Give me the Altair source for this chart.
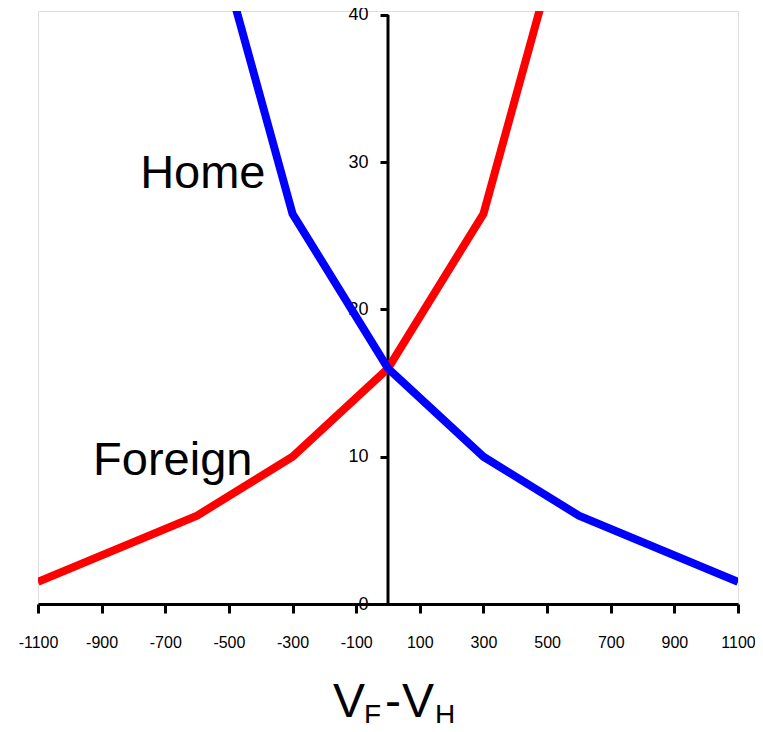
import altair as alt
import pandas as pd

# ---- data ----
x_vals = [-1100, -600, -300, 0, 300, 600, 1100]
home_vals = [None, 50, 26.5, 16, 10, 6, 1.5]
foreign_vals = [1.5, 6, 10, 16, 26.5, 50, None]
series_names = ["Home", "Foreign"]
series_colors = ["#0000ff", "#ff0000"]

x_ticks = [-1100, -900, -700, -500, -300, -100, 100, 300, 500, 700, 900, 1100]
y_ticks = [0, 10, 20, 30, 40]

label_text = ["Home", "Foreign"]
label_x = [-779, -927]
label_y = [28.25, 8.76]

rows = []
for xv, hv, fv in zip(x_vals, home_vals, foreign_vals):
    if hv is not None:
        rows.append({"x": xv, "y": hv, "series": "Home"})
    if fv is not None:
        rows.append({"x": xv, "y": fv, "series": "Foreign"})
df = pd.DataFrame(rows)

labels_df = pd.DataFrame({"text": label_text, "x": label_x, "y": label_y})
yaxis_df = pd.DataFrame({"x": [0], "y": [0], "y2": [40]})

NARROW = "Liberation Sans, Arial, sans-serif"
SANS = "Liberation Sans, Arial, sans-serif"
LABEL_EXPR = "datum.value < 0 ? '-' + abs(datum.value) : '' + datum.value"

xscale = alt.Scale(domain=[-1100, 1100], nice=False, zero=False)
yscale = alt.Scale(domain=[0, 40.27], nice=False, zero=False)

lines = alt.Chart(df).mark_line(strokeWidth=8, clip=True).encode(
    x=alt.X("x:Q", scale=xscale,
            axis=alt.Axis(values=x_ticks, title=None, grid=False,
                          domainColor="black", domainWidth=3,
                          tickColor="black", tickWidth=3, tickSize=9,
                          labelExpr=LABEL_EXPR,
                          labelFont=NARROW, labelFontSize=16, labelColor="black",
                          labelPadding=21, labelFlush=False, labelOverlap=False)),
    y=alt.Y("y:Q", scale=yscale,
            axis=alt.Axis(values=y_ticks, title=None, grid=False, domain=False,
                          offset=-350,
                          tickColor="black", tickWidth=3, tickSize=8,
                          labelExpr=LABEL_EXPR,
                          labelFont=NARROW, labelFontSize=18, labelColor="black",
                          labelPadding=12, labelFlush=False, labelOverlap=False)),
    color=alt.Color("series:N", scale=alt.Scale(domain=series_names, range=series_colors),
                    legend=None),
    detail="series:N",
)

yaxis_line = alt.Chart(yaxis_df).mark_rule(color="black", strokeWidth=3).encode(
    x=alt.X("x:Q", scale=xscale), y=alt.Y("y:Q", scale=yscale), y2="y2:Q"
)

labels = alt.Chart(labels_df).mark_text(
    font=SANS, fontSize=47, align="left", baseline="alphabetic", color="black"
).encode(
    x=alt.X("x:Q", scale=xscale), y=alt.Y("y:Q", scale=yscale), text="text:N"
)

def txt(s, px, py, size):
    return alt.Chart(pd.DataFrame({"t": [s]})).mark_text(
        font=SANS, fontSize=size, align="left", baseline="alphabetic", color="black"
    ).encode(x=alt.value(px), y=alt.value(py), text="t:N")

title_parts = [
    txt("V", 295, 706, 48),
    txt("F", 326, 713, 28),
    txt("-", 347, 706, 48),
    txt("V", 364, 706, 48),
    txt("H", 397, 713, 28),
]

chart = alt.layer(yaxis_line, lines, labels, *title_parts).properties(
    width=700, height=593,
    autosize=alt.AutoSizeParams(type="none"),
    padding={"left": 30, "top": 3, "right": 17, "bottom": 119},
).configure_view(stroke=None).configure(background="white")

chart.save("out.html", embed_options={"renderer": "svg", "actions": False})
